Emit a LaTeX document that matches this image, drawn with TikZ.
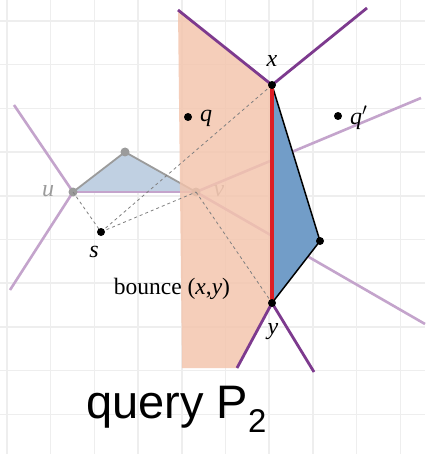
\documentclass[tikz,border=0pt]{standalone}
\usepackage{fontspec}
\setmainfont{Liberation Serif}
\newfontfamily\handfont{Liberation Sans}
\definecolor{peach}{RGB}{244,196,172}
\definecolor{dpurple}{RGB}{125,58,142}
\definecolor{lpurple}{RGB}{196,164,204}
\definecolor{bluepoly}{RGB}{114,157,200}
\definecolor{lblue}{RGB}{192,208,226}
\definecolor{mgray}{RGB}{155,155,155}
\definecolor{gridgray}{RGB}{238,238,238}
\definecolor{redline}{RGB}{222,30,36}
\begin{document}
\begin{tikzpicture}[x=1pt,y=-1pt,
  gridline/.style={gridgray,line width=1.5pt},
  lightp/.style={lpurple,line width=2.6pt},
  darkp/.style={dpurple,line width=2.8pt},
  dashedge/.style={gray,line width=0.8pt,dash pattern=on 3pt off 3pt},
  blackdot/.style={circle,fill=black,inner sep=0pt,minimum size=8pt},
  graydot/.style={circle,fill=mgray,inner sep=0pt,minimum size=9pt},
  lbl/.style={font=\fontsize{24}{26}\selectfont\itshape,inner sep=0pt},
]
\useasboundingbox (0,0) rectangle (425,454);
\fill[white] (0,0) rectangle (425,454);
% grid
\foreach \g in {0,...,9} {
  \draw[gridline] ({7+43.7*\g},0) -- ({7+43.7*\g},454);
  \draw[gridline] (0,{21+43.7*\g}) -- (425,{21+43.7*\g});
}
% points
\coordinate (U) at (73,192);
\coordinate (T) at (125,152);
\coordinate (V) at (196,192);
\coordinate (S) at (101,232);
\coordinate (X) at (272,85);
\coordinate (Y) at (272,303);
\coordinate (W) at (320,241);
\coordinate (UA) at (14,105);
\coordinate (UB) at (10,290);
\coordinate (VA) at (421,98);
\coordinate (VB) at (425,324);
\coordinate (PA) at (178,10);
\coordinate (PB) at (367,8);
\coordinate (PC) at (237,368);
\coordinate (PD) at (314,372);
\coordinate (PE) at (182,368);
% light purple lines
\draw[lightp] (U) -- (UA);
\draw[lightp] (U) -- (UB);
\draw[lightp] (V) -- (VA);
\draw[lightp] (V) -- (VB);
% gray triangle
\filldraw[fill=lblue,draw=mgray,line width=1.8pt,line join=round] (U) -- (T) -- (V) -- cycle;
\draw[lightp] (U) -- (V);
\node[graydot] (ud) at (U) {};
\node[graydot] (td) at (T) {};
\node[graydot] (vd) at (V) {};
\node[lbl,text=mgray] (ul) at (48,191) {u};
\node[lbl,text=mgray] (vl) at (219,191) {v};
% peach region
\fill[peach,opacity=0.82] (PA) -- (X) -- (Y) -- (PC) -- (PE) -- cycle;
% dark purple lines
\draw[darkp] (PA) -- (X) -- (PB);
\draw[darkp] (PC) -- (Y) -- (PD);
% dashed lines
\draw[dashedge] (U) -- (S);
\draw[dashedge] (S) -- (V);
\draw[dashedge] (S) -- (X);
\draw[dashedge] (V) -- (Y);
% blue polygon
\fill[bluepoly] (X) -- (W) -- (Y) -- cycle;
\draw[black,line width=1.5pt,line join=round] (X) -- (W) -- (Y);
\draw[redline,line width=4pt] (X) -- (Y);
% dots
\node[blackdot] (xd) at (X) {};
\node[blackdot] (yd) at (Y) {};
\node[blackdot] (wd) at (W) {};
\node[blackdot] (sd) at (S) {};
\node[blackdot] (qd) at (188,117) {};
\node[blackdot] (qpd) at (338,116) {};
% labels
\node[lbl] (xl) at (272,61) {x};
\node[lbl] (yl) at (273,332) {y};
\node[lbl] (sl) at (94,252) {s};
\node[lbl,anchor=west] (ql) at (200,118) {q};
\node[lbl,anchor=west] (qpl) at (350,118) {q$'$};
\node[font=\fontsize{23.5}{26}\selectfont,inner sep=0pt] (bl) at (172,289) {bounce (\textit{x},\textit{y})};
\node[font=\handfont\fontsize{47}{50}\selectfont,inner sep=0pt,anchor=base west] (hw) at (86,418) {query P\textsubscript{2}};
\end{tikzpicture}
\end{document}
